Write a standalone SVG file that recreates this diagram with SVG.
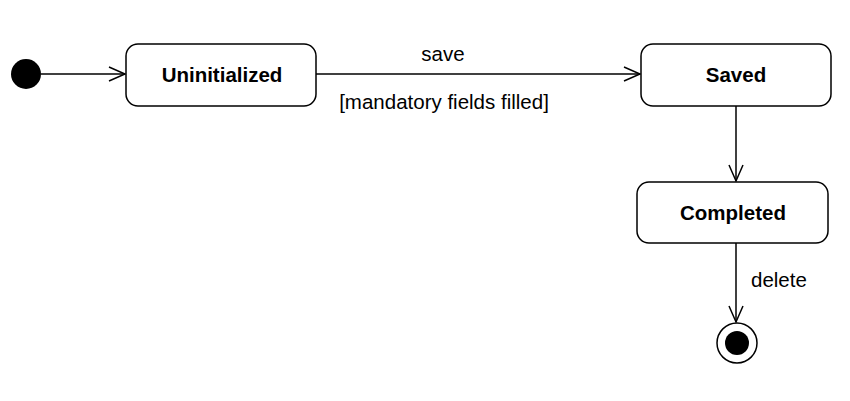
<svg xmlns="http://www.w3.org/2000/svg" width="850" height="401" viewBox="0 0 850 401">
<style>
.st{fill:#fff;stroke:#000;stroke-width:1.5}
.nt{font-family:"Liberation Sans",Arial,sans-serif;font-size:20.5px;font-weight:bold;text-anchor:middle;fill:#000}
.lb{font-family:"Liberation Sans",Arial,sans-serif;font-size:20.5px;fill:#000}
.ln{fill:none;stroke:#000;stroke-width:1.5}
</style>
<defs>
<marker id="open" markerWidth="20" markerHeight="20" refX="17" refY="8" orient="auto" markerUnits="userSpaceOnUse">
<path d="M1,1 L17,8 L1,15" fill="none" stroke="#000" stroke-width="1.5"/>
</marker>
</defs>
<rect width="850" height="401" fill="#fff"/>
<g id="connectors">
<line class="ln" x1="41" y1="74" x2="125" y2="74" marker-end="url(#open)"/>
<line class="ln" x1="316" y1="74" x2="640" y2="74" marker-end="url(#open)"/>
<line class="ln" x1="736" y1="106" x2="736" y2="181" marker-end="url(#open)"/>
<line class="ln" x1="736" y1="243" x2="736" y2="322" marker-end="url(#open)"/>
<text class="lb" x="443" y="61" text-anchor="middle">save</text>
<text class="lb" x="444" y="109" text-anchor="middle">[mandatory fields filled]</text>
<text class="lb" x="751" y="287">delete</text>
</g>
<g id="initial"><circle cx="26" cy="74" r="15" fill="#000"/></g>
<g id="uninitialized"><rect class="st" x="126" y="44" width="190" height="62" rx="12"/><text class="nt" x="222" y="82">Uninitialized</text></g>
<g id="saved"><rect class="st" x="641" y="44" width="190" height="62" rx="12"/><text class="nt" x="736" y="82">Saved</text></g>
<g id="completed"><rect class="st" x="637" y="182" width="191" height="61" rx="12"/><text class="nt" x="733" y="220">Completed</text></g>
<g id="final"><circle cx="737" cy="343" r="20" fill="#fff" stroke="#000" stroke-width="1.5"/><circle cx="737" cy="343" r="12" fill="#000"/></g>
</svg>
